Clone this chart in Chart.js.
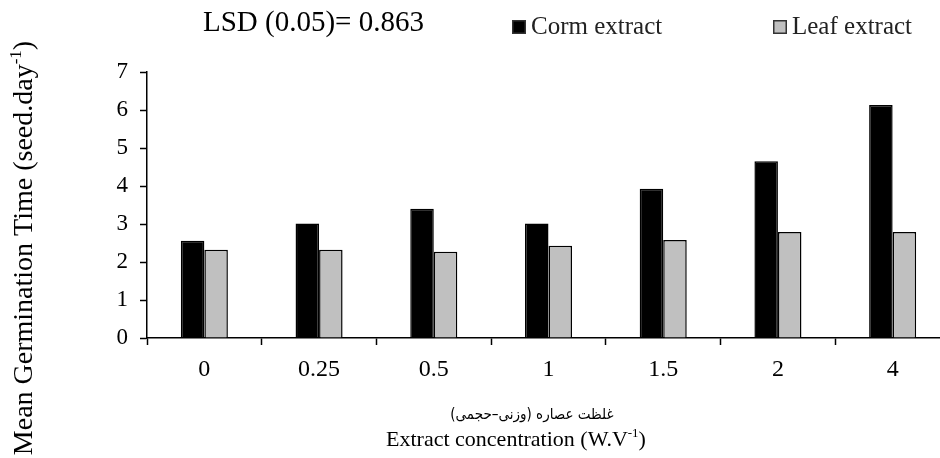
<!DOCTYPE html>
<html>
<head>
<meta charset="utf-8">
<script src="https://cdn.jsdelivr.net/npm/chart.js@4.4.1/dist/chart.umd.min.js"></script>
<style>
  html, body { margin: 0; padding: 0; background: #fff; overflow: hidden; }
  #wrap { width: 940px; height: 458px; overflow: hidden; }
  canvas { display: block; }
</style>
</head>
<body>
<div id="wrap"><canvas id="mgtChart" width="960" height="458"></canvas></div>
<script>
// data
const concentrations = ['0', '0.25', '0.5', '1', '1.5', '2', '4'];
const cormExtract = [2.56, 3.01, 3.40, 3.01, 3.93, 4.65, 6.13];
const leafExtract = [2.32, 2.32, 2.27, 2.43, 2.58, 2.79, 2.79];
const yMin = 0;
const yMax = 7;
const yStep = 1;
const lsdText = 'LSD (0.05)= 0.863';
const xTitleFa = 'غلظت عصاره (وزنی–حجمی)';
const xTitleEn = [['Extract concentration (W.V'], ['-1', true], [')']];
const yTitle = [['Mean Germination Time (seed.day'], ['-1', true], [')']];

const serif = '"Liberation Serif", "Times New Roman", serif';

// draws text pieces one after another, pieces flagged true are superscript
function richWidth(ctx, parts, size) {
  let w = 0;
  parts.forEach(([t, sup]) => {
    ctx.font = (sup ? Math.round(size * 0.6) : size) + 'px ' + serif;
    w += ctx.measureText(t).width;
  });
  return w;
}
function drawRich(ctx, parts, x, y, size) {
  let cx = x;
  parts.forEach(([t, sup]) => {
    ctx.font = (sup ? Math.round(size * 0.6) : size) + 'px ' + serif;
    ctx.fillText(t, cx, sup ? y - size * 0.4 : y);
    cx += ctx.measureText(t).width;
  });
}

const annotations = {
  id: 'annotations',
  afterDraw(chart) {
    const ctx = chart.ctx;
    ctx.save();
    ctx.fillStyle = '#000';
    ctx.textAlign = 'left';
    ctx.textBaseline = 'alphabetic';

    // LSD note
    ctx.font = '29px ' + serif;
    ctx.fillText(lsdText, 203, 31);

    // legend
    const legendX = [512, 773];
    chart.data.datasets.forEach((ds, i) => {
      const bx = legendX[i];
      ctx.fillStyle = ds.backgroundColor;
      ctx.fillRect(bx, 20, 14, 14);
      ctx.strokeStyle = '#333';
      ctx.lineWidth = 1.5;
      ctx.strokeRect(bx + 0.75, 20.75, 12.5, 12.5);
      ctx.fillStyle = '#222';
      ctx.font = '25px ' + serif;
      ctx.fillText(ds.label, bx + 19, 34);
    });

    // x title, two lines
    ctx.fillStyle = '#000';
    ctx.textAlign = 'center';
    ctx.direction = 'rtl';
    ctx.font = '15px "DejaVu Sans Condensed", "DejaVu Sans", sans-serif';
    ctx.fillText(xTitleFa, 532, 419);
    ctx.direction = 'ltr';
    ctx.textAlign = 'left';
    const xs = 22;
    const xw = richWidth(ctx, xTitleEn, xs);
    drawRich(ctx, xTitleEn, 516 - xw / 2, 446, xs);

    // y title, rotated
    const ys = 28;
    const yw = richWidth(ctx, yTitle, ys);
    ctx.translate(32, 248);
    ctx.rotate(-Math.PI / 2);
    drawRich(ctx, yTitle, -yw / 2, 0, ys);
    ctx.restore();
  }
};

const ctx = document.getElementById('mgtChart');
const mgtChart = new Chart(ctx, {
  type: 'bar',
  data: {
    labels: concentrations,
    datasets: [{
      label: 'Corm extract',
      data: cormExtract,
      backgroundColor: '#000000',
      borderColor: '#000000',
      borderWidth: 1.5
    }, {
      label: 'Leaf extract',
      data: leafExtract,
      backgroundColor: '#c0c0c0',
      borderColor: '#000000',
      borderWidth: 1.5
    }]
  },
  options: {
    responsive: false,
    devicePixelRatio: 1,
    animation: false,
    layout: { padding: { top: 72, right: 10, left: 0, bottom: 0 } },
    datasets: {
      bar: { categoryPercentage: 0.41, barPercentage: 1.0 }
    },
    scales: {
      x: {
        offset: true,
        afterFit: (s) => { s.height = 120; },
        grid: {
          offset: true,
          drawOnChartArea: false,
          drawTicks: true,
          tickLength: 7,
          tickWidth: 1.5,
          tickColor: '#000'
        },
        border: { color: '#000', width: 1.5 },
        ticks: {
          color: '#000',
          padding: 10,
          font: { family: serif, size: 24 }
        }
      },
      y: {
        min: yMin,
        max: yMax,
        afterFit: (s) => { s.width = 147; },
        grid: {
          drawOnChartArea: false,
          tickLength: 7,
          tickWidth: 1.5,
          tickColor: '#000'
        },
        border: { color: '#000', width: 1.5 },
        ticks: {
          stepSize: yStep,
          color: '#000',
          padding: 12,
          font: { family: serif, size: 23 }
        }
      }
    },
    plugins: {
      legend: { display: false },
      tooltip: { enabled: false }
    }
  },
  plugins: [annotations]
});
</script>
</body>
</html>
